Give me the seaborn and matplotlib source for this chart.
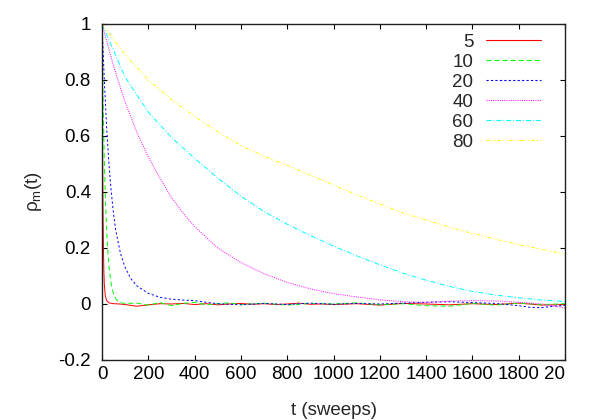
import pandas as pd
import seaborn as sns
import matplotlib
matplotlib.use('Agg')
import matplotlib.pyplot as plt
from matplotlib.lines import Line2D
from matplotlib.transforms import Bbox, TransformedBbox

# values
t5 = [0, 2, 4, 6, 8, 10, 14, 20, 30, 50, 75, 100, 150, 200, 250, 300, 350, 400, 450, 500,
      550, 600, 650, 700, 750, 800, 850, 900, 950, 1000, 1100, 1200, 1300, 1400, 1500,
      1600, 1700, 1800, 1900, 2000]
rho5 = [1.0, 0.60, 0.36, 0.21, 0.12, 0.07, 0.03, 0.012, 0.004, 0.001, 0.0, -0.002, -0.008,
        -0.003, 0.001, 0.0, 0.002, -0.002, 0.001, -0.003, 0.0, 0.002, -0.001, 0.001, -0.002,
        0.0, 0.003, -0.001, 0.0, -0.002, 0.001, -0.004, 0.002, 0.0, -0.003, 0.001, -0.002,
        0.003, -0.004, -0.002]

t10 = [0, 5, 10, 15, 20, 25, 30, 40, 50, 60, 70, 85, 100, 150, 200, 250, 300, 350, 400, 450,
       500, 550, 600, 700, 800, 900, 1000, 1100, 1200, 1300, 1400, 1500, 1600, 1700, 1800,
       1900, 2000]
rho10 = [1.0, 0.72, 0.51, 0.37, 0.26, 0.19, 0.135, 0.07, 0.036, 0.018, 0.009, 0.004, 0.002,
         0.003, -0.004, 0.005, -0.006, 0.002, 0.006, -0.003, 0.001, 0.004, -0.002, 0.003,
         -0.004, 0.002, 0.0, 0.004, -0.003, 0.001, -0.006, -0.008, 0.002, -0.004, 0.003,
         -0.002, 0.001]

t20 = [0, 10, 20, 30, 40, 50, 60, 80, 100, 125, 150, 200, 250, 300, 350, 400, 450, 500, 600,
       700, 800, 900, 1000, 1100, 1200, 1300, 1400, 1500, 1600, 1700, 1800, 1850, 1900, 1950,
       2000]
rho20 = [1.0, 0.80, 0.63, 0.50, 0.40, 0.32, 0.26, 0.18, 0.13, 0.09, 0.065, 0.038, 0.024,
         0.017, 0.014, 0.012, 0.006, 0.001, -0.003, 0.002, -0.002, 0.003, -0.001, 0.002, 0.0,
         0.003, 0.006, 0.008, 0.005, 0.002, -0.006, -0.012, -0.013, -0.008, -0.005]

t40 = [0, 50, 100, 150, 200, 250, 300, 350, 400, 500, 600, 700, 800, 900, 1000, 1100, 1200,
       1300, 1400, 1500, 1600, 1700, 1800, 1900, 2000]
rho40 = [1.0, 0.85, 0.72, 0.615, 0.525, 0.45, 0.38, 0.325, 0.277, 0.2, 0.148, 0.108, 0.077,
         0.054, 0.037, 0.025, 0.015, 0.008, 0.006, 0.01, 0.012, 0.011, 0.006, 0.0, -0.014]

t60 = [0, 100, 200, 300, 400, 500, 600, 700, 800, 900, 1000, 1100, 1200, 1300, 1400, 1500,
       1600, 1700, 1800, 1900, 2000]
rho60 = [1.0, 0.81, 0.685, 0.595, 0.52, 0.45, 0.385, 0.33, 0.285, 0.244, 0.207, 0.172, 0.14,
         0.11, 0.085, 0.063, 0.045, 0.032, 0.022, 0.014, 0.009]

t80 = t60
rho80 = [1.0, 0.89, 0.80, 0.73, 0.67, 0.615, 0.565, 0.528, 0.495, 0.46, 0.425, 0.39, 0.357,
         0.325, 0.30, 0.275, 0.252, 0.232, 0.212, 0.195, 0.178]

labels = ["5", "10", "20", "40", "60", "80"]
xticks = [0, 200, 400, 600, 800, 1000, 1200, 1400, 1600, 1800, 2000]
yticks = [-0.2, 0, 0.2, 0.4, 0.6, 0.8, 1]
ytick_labels = ["-0.2", "0", "0.2", "0.4", "0.6", "0.8", "1"]

colors = ["#ff0000", "#00ff00", "#0000ff", "#ff00ff", "#00ffff", "#ffff00"]
styles = ["-", (0, (3.6, 2.2)), (0, (1.6, 1.6)), (0, (0.7, 0.9)),
          (0, (3.6, 1.4, 0.7, 1.4)), (0, (2.5, 1.4, 0.7, 1.4, 0.7, 1.4))]

sns.set_theme(style="ticks")
plt.rcParams['font.family'] = ['Liberation Sans', 'DejaVu Sans']
plt.rcParams['font.size'] = 13.5
plt.rcParams['axes.unicode_minus'] = False
plt.rcParams['lines.scale_dashes'] = False
plt.rcParams['mathtext.fontset'] = 'custom'
plt.rcParams['mathtext.rm'] = 'Liberation Sans'

fig = plt.figure(figsize=(6, 4.2), dpi=100)
ax = fig.add_axes([0.17, 0.1429, 0.7717, 0.8])

series = [(t5, rho5), (t10, rho10), (t20, rho20), (t40, rho40), (t60, rho60), (t80, rho80)]
for (t, r), c, ls in zip(series, colors, styles):
    df = pd.DataFrame({"t": t, "rho": r})
    sns.lineplot(data=df, x="t", y="rho", color=c, lw=0.7, linestyle=ls,
                 estimator=None, ax=ax)

ax.set_xlim(0, 2000)
ax.set_ylim(-0.2, 1)
ax.set_xticks(xticks)
ax.set_xticklabels([str(v) for v in xticks])
ax.set_yticks(yticks)
ax.set_yticklabels(ytick_labels)
ax.tick_params(direction='in', top=True, right=True, length=3.5, width=0.8,
               labelsize=13.5, colors='black')
ax.tick_params(axis='x', pad=4)
ax.tick_params(axis='y', pad=8)
for s in ax.spines.values():
    s.set_color('#202020')
    s.set_linewidth(1)

# the reference cuts the last x label at the right border of the plot
last = ax.get_xticklabels()[-1]
last.set_clip_box(TransformedBbox(Bbox([[0, 0], [0.941, 1]]), fig.transFigure))
last.set_clip_on(True)

ax.set_xlabel("t (sweeps)", fontsize=13.5, labelpad=14)
ax.set_ylabel("ρ$_\\mathregular{m}$(t)", fontsize=13.5, labelpad=10)

handles = [Line2D([], [], color=c, lw=0.8, linestyle=ls) for c, ls in zip(colors, styles)]
ax.legend(handles, labels, loc='upper right', bbox_to_anchor=(0.917, 0.942),
          bbox_transform=fig.transFigure, frameon=False, markerfirst=False,
          handlelength=2.9, handletextpad=0.7, labelspacing=0.15, borderpad=0,
          fontsize=13.5)

plt.savefig("out.png", dpi=100)
plt.close()
